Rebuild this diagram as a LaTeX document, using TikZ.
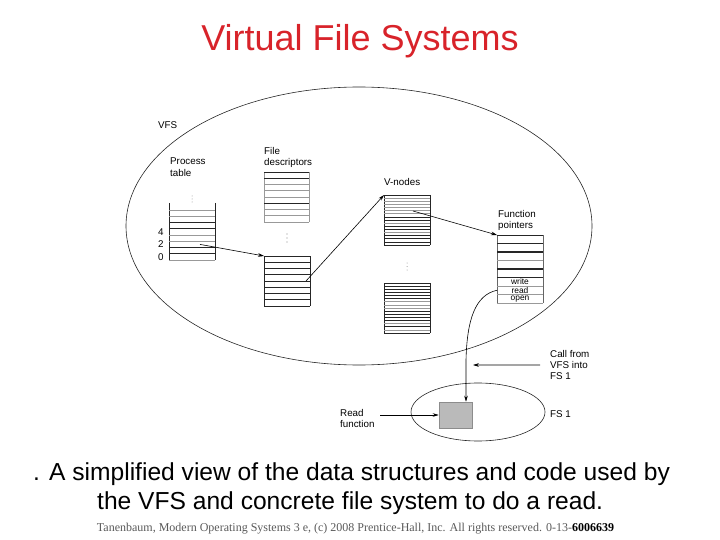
\documentclass[tikz,border=0pt]{standalone}
\usepackage{fontspec}
\setmainfont{Liberation Sans}
\newfontfamily\footerfont{Liberation Serif}
\usetikzlibrary{arrows.meta,shapes.geometric}

\colorlet{rule dark color}{black!85}
\colorlet{rule light color}{black!40}
\definecolor{title color}{HTML}{D8232A}
\tikzset{
    x={1pt},
    y={-1pt},
    title text/.style={
        font={\fontsize{36}{40}\selectfont},
        text=title color,
        anchor=base,
        inner sep=0pt,
    },
    caption text/.style={
        font={\fontsize{24.6}{29}\selectfont},
        align=left,
        anchor=north west,
        inner sep=0pt,
    },
    footer text/.style={
        font={\footerfont\fontsize{12}{14}\selectfont},
        text=black!65,
        anchor=base,
        inner sep=0pt,
    },
    label text/.style={
        font={\fontsize{9.8}{11.2}\selectfont},
        align=left,
        anchor=north west,
        inner sep=0pt,
    },
    index text/.style={
        font={\fontsize{9.8}{11}\selectfont},
        anchor=west,
        inner sep=0pt,
    },
    entry text/.style={
        font={\fontsize{8.4}{8.4}\selectfont},
        inner sep=0pt,
    },
    dots/.style={
        fill=black!45,
    },
    system boundary/.style={
        ellipse, draw=black!85,
        line width={0.6pt},
        inner sep=0pt,
        minimum width={#1},
    },
    table block/.style 2 args={
        rectangle, draw=none,
        inner sep=0pt, outer sep=0pt,
        minimum width={#1},
        minimum height={#2},
    },
    table side/.style={
        draw={#1},
        line width={0.6pt},
    },
    table side/.default={rule dark color},
    rule dark/.style={
        draw=rule dark color,
        line width={0.6pt},
    },
    rule light/.style={
        draw=rule light color,
        line width={0.6pt},
    },
    rule thick/.style={
        draw=rule dark color,
        line width={1.2pt},
    },
    code box/.style={
        rectangle, fill=black!27, draw=black!45,
        line width={0.6pt},
        minimum width={33},
        minimum height={26},
    },
    pointer/.style={
        draw=black,
        line width={0.6pt},
        -{Stealth[length=6pt,width=3.6pt]},
    },
}

\begin{document}
\begin{tikzpicture}
\useasboundingbox (0,0) rectangle (720,540);
% heading
\node[title text] (title) at (360,51) {Virtual File Systems};
% boundaries
\node[system boundary={466}, minimum height={278}] (vfs) at (359,226) {};
\node[system boundary={134}, minimum height={58}] (fs1) at (478,412) {};
% labels
\node[label text] (vfs label) at (158,121) {VFS};
\node[label text] (pt label) at (170,158) {Process\\table};
\node[label text] (fd label) at (264,147) {File\\descriptors};
\node[label text] (vn label) at (384,178.5) {V-nodes};
\node[label text] (fp label) at (498,210) {Function\\pointers};
\node[label text] (call) at (550,350) {Call from\\VFS into\\FS 1};
\node[label text] (fs1 label) at (550,410) {FS 1};
\node[label text] (readfn) at (340,409) {Read\\function};
\node[index text] (idx4) at (158,232) {4};
\node[index text] (idx2) at (158,244.4) {2};
\node[index text] (idx0) at (158,257) {0};
% tables
\node[table block={46}{57}] (pt) at (192,231.5) {};
\draw[table side] (pt.north west) -- (pt.south west) (pt.north east) -- (pt.south east);
\path[rule dark] (169,222.5) -- (215,222.5) (169,228.75) -- (215,228.75) (169,247.5) -- (215,247.5) (169,253.75) -- (215,253.75);
\path[rule light] (169,210) -- (215,210) (169,216.25) -- (215,216.25) (169,235) -- (215,235) (169,241.25) -- (215,241.25) (169,260) -- (215,260);
\path[dots] (192,196) circle (0.5) (192,199) circle (0.5) (192,202) circle (0.5);
\node[table block={45}{50}] (fdup) at (286.5,197) {};
\draw[table side={rule light color}] (fdup.north west) -- (fdup.south west) (fdup.north east) -- (fdup.south east);
\path[rule dark] (264,172) -- (309,172) (264,178.25) -- (309,178.25) (264,203.25) -- (309,203.25);
\path[rule light] (264,184.5) -- (309,184.5) (264,190.75) -- (309,190.75) (264,197) -- (309,197) (264,209.5) -- (309,209.5) (264,215.75) -- (309,215.75) (264,222) -- (309,222);
\path[dots] (287,234) circle (0.55) (287,238) circle (0.55) (287,242) circle (0.55);
\node[table block={46}{50}] (fdlow) at (287,281) {};
\draw[table side] (fdlow.north west) -- (fdlow.south west) (fdlow.north east) -- (fdlow.south east);
\path[rule dark] (264,256) -- (310,256) (264,268.5) -- (310,268.5) (264,274.75) -- (310,274.75) (264,281) -- (310,281) (264,293.5) -- (310,293.5) (264,299.75) -- (310,299.75) (264,306) -- (310,306);
\path[rule thick] (264,262.25) -- (310,262.25) (264,287.25) -- (310,287.25);
\node[table block={46}{50}] (vnup) at (407,220) {};
\draw[table side] (vnup.north west) -- (vnup.south west) (vnup.north east) -- (vnup.south east);
\path[rule light] (384,198.125) -- (430,198.125) (384,201.25) -- (430,201.25) (384,204.375) -- (430,204.375) (384,207.5) -- (430,207.5) (384,210.625) -- (430,210.625) (384,213.75) -- (430,213.75) (384,223.125) -- (430,223.125) (384,232.5) -- (430,232.5);
\path[rule dark] (384,195) -- (430,195) (384,216.875) -- (430,216.875) (384,220) -- (430,220) (384,226.25) -- (430,226.25) (384,229.375) -- (430,229.375) (384,235.625) -- (430,235.625) (384,238.75) -- (430,238.75) (384,241.875) -- (430,241.875) (384,245) -- (430,245);
\path[dots] (407,263) circle (0.5) (407,266.5) circle (0.5) (407,270) circle (0.5);
\node[table block={46}{50}] (vnlow) at (407,308) {};
\draw[table side] (vnlow.north west) -- (vnlow.south west) (vnlow.north east) -- (vnlow.south east);
\path[rule dark] (384,283) -- (430,283) (384,286.125) -- (430,286.125) (384,289.25) -- (430,289.25) (384,292.375) -- (430,292.375) (384,295.5) -- (430,295.5) (384,298.625) -- (430,298.625) (384,311.125) -- (430,311.125) (384,314.25) -- (430,314.25) (384,317.375) -- (430,317.375) (384,320.5) -- (430,320.5) (384,326.75) -- (430,326.75) (384,333) -- (430,333);
\path[rule light] (384,301.75) -- (430,301.75) (384,304.875) -- (430,304.875) (384,308) -- (430,308) (384,323.625) -- (430,323.625) (384,329.875) -- (430,329.875);
\node[table block={46}{68}] (fp) at (520,269) {};
\draw[table side={black!60}] (fp.north west) -- (fp.south west) (fp.north east) -- (fp.south east);
\path[rule dark] (497,235) -- (543,235) (497,243.5) -- (543,243.5) (497,277.5) -- (543,277.5);
\path[rule thick] (497,252) -- (543,252) (497,269) -- (543,269);
\path[rule light] (497,260.5) -- (543,260.5) (497,286) -- (543,286) (497,294.5) -- (543,294.5) (497,303) -- (543,303);
\node[entry text] (fp write) at (520,281.75) {write};
\node[entry text] (fp read) at (520,290.25) {read};
\node[entry text] (fp open) at (520,298.75) {open};
% code
\node[code box] (box) at (455.5,415) {};
% pointers
\coordinate (pt row2) at (200,244.4);
\coordinate (fd entry) at (306,281);
\coordinate (vn entry) at (413,211);
\coordinate (call tip) at (473,365);
\coordinate (read start) at (380,415);
\draw[pointer] (pt row2) -- (fdlow.north west);
\draw[pointer] (fd entry) -- (vnup.north west);
\draw[pointer] (vn entry) -- (fp.north west);
\draw[pointer] (fp read -| fp.west) .. controls (475,295) and (467,320) .. (466,360) -- ([xshift=10.5]box.north);
\draw[pointer] ([xshift=-10]call.west) -- (call tip);
\draw[pointer] (read start) -- (box.west);
% caption
\node[caption text] (caption) at (33,462) {. A simplified view of the data structures and code used by\\\hspace*{64pt}the VFS and concrete file system to do a read.};
\node[footer text] (footer) at (355.5,531) {Tanenbaum, Modern Operating Systems 3 e, (c) 2008 Prentice-Hall, Inc. All rights reserved. 0-13-\textcolor{black}{\textbf{6006639}}};
\end{tikzpicture}
\end{document}
